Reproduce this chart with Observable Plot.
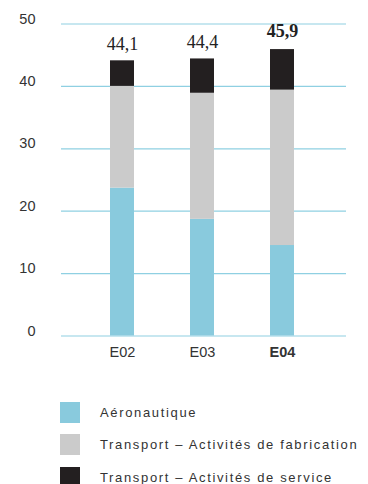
<!DOCTYPE html>
<html>
<head>
<meta charset="utf-8">
<script src="https://cdn.jsdelivr.net/npm/d3@7"></script>
<script src="https://cdn.jsdelivr.net/npm/@observablehq/plot@0.6"></script>
<style>
  body { margin: 0; background: #fff; font-family: "Liberation Sans", Arial, sans-serif; }
  #chart svg { display: block; }
  .legend { margin-top: 26px; padding-left: 60px; }
  .legend .item { display: flex; align-items: center; height: 32.5px; }
  .legend .sw { width: 20px; height: 21px; margin-right: 20px; flex: none; }
  .legend .lab { font-size: 13px; letter-spacing: 1.65px; color: #333; white-space: nowrap; }
</style>
</head>
<body>
<div id="chart"></div>
<div class="legend" id="legend"></div>
<script>
// Periods and the three business segments (stacked, bottom to top)
const periods = ["E02", "E03", "E04"];
const aeronautique = [23.7, 18.7, 14.5];
const fabrication = [16.3, 20.2, 24.9];
const service = [4.1, 5.5, 6.5];
const segments = ["Aéronautique", "Transport – Activités de fabrication", "Transport – Activités de service"];
const colors = ["#89cadd", "#cbcbcb", "#231f20"];
const yTicks = [0, 10, 20, 30, 40, 50];

const rows = [];
periods.forEach((p, i) => {
  rows.push({period: p, segment: segments[0], value: aeronautique[i]});
  rows.push({period: p, segment: segments[1], value: fabrication[i]});
  rows.push({period: p, segment: segments[2], value: service[i]});
});
const totals = periods.map((p, i) => ({
  period: p,
  total: Math.round((aeronautique[i] + fabrication[i] + service[i]) * 10) / 10
}));
const fmt = d => d.total.toFixed(1).replace(".", ",");

const chart = Plot.plot({
  width: 368,
  height: 370,
  marginTop: 23.5,
  marginBottom: 34.5,
  marginLeft: 61,
  marginRight: 22,
  style: {fontFamily: "Liberation Sans, Arial, sans-serif", color: "#333"},
  x: {domain: periods, range: [82, 322], paddingInner: 0.694, paddingOuter: 0.347, axis: null},
  y: {domain: [0, 50], ticks: yTicks, label: null},
  color: {domain: segments, range: colors},
  marks: [
    Plot.ruleY(yTicks, {stroke: "#8fd0e2", strokeWidth: 1.2}),
    Plot.axisY(yTicks, {tickSize: 0, tickPadding: 26, dy: -5, fontSize: 14.5, fill: "#333", label: null}),
    Plot.barY(rows, {x: "period", y: "value", fill: "segment", order: segments}),
    Plot.text(totals.filter(d => d.period !== "E04"), {
      x: "period", y: "total", text: fmt, lineAnchor: "bottom", dy: -11,
      fontFamily: "Liberation Serif, Times New Roman, serif", fontSize: 18, fill: "#222"
    }),
    Plot.text(totals.filter(d => d.period === "E04"), {
      x: "period", y: "total", text: fmt, lineAnchor: "bottom", dy: -13,
      fontFamily: "Liberation Serif, Times New Roman, serif", fontSize: 18, fontWeight: "bold", fill: "#222"
    }),
    Plot.text(periods.filter(p => p !== "E04"), {
      x: d => d, y: () => 0, lineAnchor: "top", dy: 10.5, fontSize: 14.5, fill: "#333"
    }),
    Plot.text(["E04"], {
      x: d => d, y: () => 0, lineAnchor: "top", dy: 10.5, fontSize: 14.5, fontWeight: "bold", fill: "#333"
    })
  ]
});
chart.querySelectorAll("text").forEach(t => {
  if (t.getAttribute("font-family") && t.getAttribute("font-family").includes("Serif")) t.setAttribute("letter-spacing", "0.8");
});
document.getElementById("chart").append(chart);

const legend = document.getElementById("legend");
segments.forEach((s, i) => {
  const item = document.createElement("div");
  item.className = "item";
  const sw = document.createElement("span");
  sw.className = "sw";
  sw.style.background = colors[i];
  const lab = document.createElement("span");
  lab.className = "lab";
  lab.textContent = s;
  item.append(sw, lab);
  legend.append(item);
});
</script>
</body>
</html>
